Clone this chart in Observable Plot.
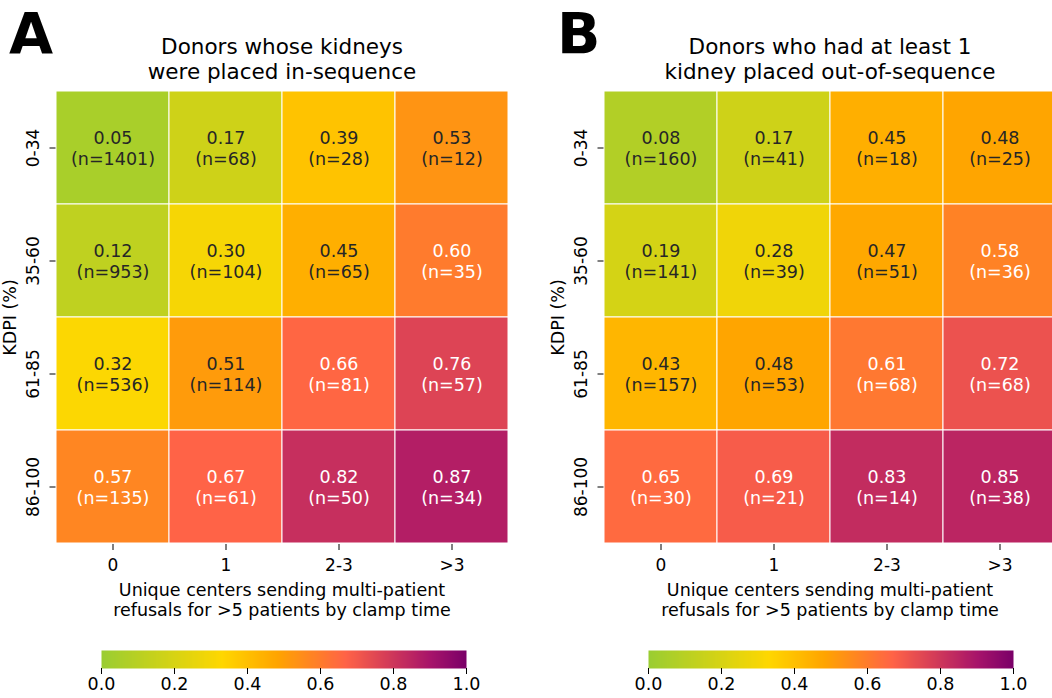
<!DOCTYPE html>
<html>
<head>
<meta charset="utf-8">
<script src="https://cdn.jsdelivr.net/npm/d3@7"></script>
<script src="https://cdn.jsdelivr.net/npm/@observablehq/plot@0.6"></script>
<style>
  html, body { margin: 0; padding: 0; background: #fff; overflow: hidden; }
  #fig { position: relative; width: 1052px; height: 698px; overflow: hidden;
         font-family: "DejaVu Sans", sans-serif; color: #000; }
  .abs { position: absolute; }
  .letter { font-weight: bold; font-size: 57px; line-height: 1; }
  .title { font-size: 21.5px; line-height: 25px; text-align: center; width: 500px; white-space: nowrap; }
  .xlab { font-size: 17.5px; line-height: 20px; text-align: center; width: 500px; white-space: nowrap; }
  svg { max-width: none !important; }
</style>
</head>
<body>
<div id="fig">
  <div class="abs letter" style="left:9px; top:6px;">A</div>
  <div class="abs letter" style="left:557px; top:6px;">B</div>
  <div class="abs title" style="left:32px; top:34px;">Donors whose kidneys<br>were placed in-sequence</div>
  <div class="abs title" style="left:580px; top:34px;">Donors who had at least 1<br>kidney placed out-of-sequence</div>
  <div class="abs" id="heatA" style="left:0px; top:80px; width:520px;"></div>
  <div class="abs" id="heatB" style="left:547.5px; top:80px; width:520px;"></div>
  <div class="abs xlab" style="left:32px; top:580px;">Unique centers sending multi-patient<br>refusals for &gt;5 patients by clamp time</div>
  <div class="abs xlab" style="left:580px; top:580px;">Unique centers sending multi-patient<br>refusals for &gt;5 patients by clamp time</div>
  <div class="abs" id="barA" style="left:80px; top:640px; width:410px;"></div>
  <div class="abs" id="barB" style="left:627px; top:640px; width:410px;"></div>
</div>
<script>
// Categories
const kdpiRows = ["0-34", "35-60", "61-85", "86-100"];
const centerCols = ["0", "1", "2-3", ">3"];

// Panel A: donors whose kidneys were placed in-sequence (proportion, count)
const propA = [
  [0.05, 0.17, 0.39, 0.53],
  [0.12, 0.30, 0.45, 0.60],
  [0.32, 0.51, 0.66, 0.76],
  [0.57, 0.67, 0.82, 0.87]
];
const countA = [
  [1401, 68, 28, 12],
  [953, 104, 65, 35],
  [536, 114, 81, 57],
  [135, 61, 50, 34]
];

// Panel B: donors with at least one kidney placed out-of-sequence
const propB = [
  [0.08, 0.17, 0.45, 0.48],
  [0.19, 0.28, 0.47, 0.58],
  [0.43, 0.48, 0.61, 0.72],
  [0.65, 0.69, 0.83, 0.85]
];
const countB = [
  [160, 41, 18, 25],
  [141, 39, 51, 36],
  [157, 53, 68, 68],
  [30, 21, 14, 38]
];

// Colour bar ticks
const barTicks = [0, 0.2, 0.4, 0.6, 0.8, 1.0];

// Piecewise colour map: yellowgreen -> gold -> orange -> tomato -> magenta -> purple
const colorScale = {
  type: "linear",
  domain: [0, 0.33, 0.48, 0.67, 0.9, 1],
  range: ["#9acd32", "#ffd700", "#ffa500", "#ff6347", "#a8146a", "#7a0068"],
  interpolate: "rgb",
  clamp: true
};

const baseStyle = {
  fontFamily: "DejaVu Sans, sans-serif",
  fontSize: "17px",
  color: "black",
  background: "transparent",
  overflow: "visible",
  maxWidth: "none"
};

function heatmap(props, counts) {
  const cells = [];
  kdpiRows.forEach((r, i) =>
    centerCols.forEach((c, j) =>
      cells.push({row: r, col: c, p: props[i][j], n: counts[i][j]})));
  const label = d => `${d.p.toFixed(2)}\n(n=${d.n})`;
  return Plot.plot({
    width: 520,
    height: 560,
    marginLeft: 55.5,
    marginRight: 11.5,
    marginTop: 10,
    marginBottom: 96,
    style: baseStyle,
    x: {domain: centerCols, padding: 0, label: null},
    y: {domain: kdpiRows, padding: 0, label: null},
    color: colorScale,
    marks: [
      Plot.cell(cells, {x: "col", y: "row", fill: "p", stroke: "white", strokeWidth: 1}),
      Plot.text(cells, {filter: d => d.p <= 0.55, x: "col", y: "row", text: label,
                        fill: "#262626", fontSize: 17.5, lineHeight: 1.15}),
      Plot.text(cells, {filter: d => d.p > 0.55, x: "col", y: "row", text: label,
                        fill: "white", fontSize: 17.5, lineHeight: 1.15}),
      // tick marks only; tick labels and axis title are text marks
      Plot.axisX({tickSize: 6, tickFormat: () => "", label: null}),
      Plot.axisY({tickSize: 6, tickFormat: () => "", label: null}),
      Plot.text(centerCols, {x: d => d, frameAnchor: "bottom", dy: 21,
                             lineAnchor: "middle", fontSize: 17, fill: "black"}),
      Plot.text(kdpiRows, {y: d => d, frameAnchor: "left", dx: -22, rotate: -90,
                           textAnchor: "middle", lineAnchor: "middle",
                           fontSize: 17, fill: "black"}),
      Plot.text(["KDPI (%)"], {text: d => d, frameAnchor: "left", dx: -45.5, rotate: -90,
                               textAnchor: "middle", lineAnchor: "middle",
                               fontSize: 17.5, fill: "black"})
    ]
  });
}

function colorbar() {
  return Plot.plot({
    width: 410,
    height: 58,
    marginLeft: 21,
    marginRight: 24,
    marginTop: 10,
    marginBottom: 30,
    style: baseStyle,
    x: {domain: [0, 1], label: null},
    y: {domain: [0, 1], axis: null},
    color: colorScale,
    marks: [
      Plot.raster({fill: (x, y) => x, x1: 0, x2: 1, y1: 0, y2: 1,
                   width: 365, height: 1, imageRendering: "auto"}),
      Plot.axisX({ticks: barTicks, tickFormat: d3.format(".1f"), tickSize: 6,
                  tickPadding: 3, fontSize: 17.5, label: null})
    ]
  });
}

document.getElementById("heatA").append(heatmap(propA, countA));
document.getElementById("heatB").append(heatmap(propB, countB));
document.getElementById("barA").append(colorbar());
document.getElementById("barB").append(colorbar());
</script>
</body>
</html>
